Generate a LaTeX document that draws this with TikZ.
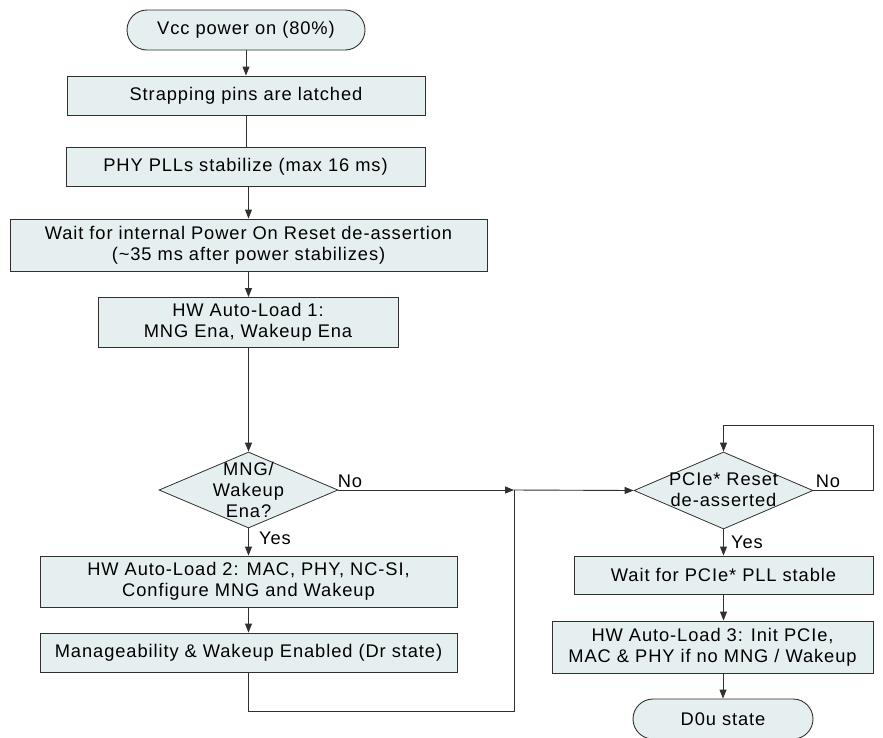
\documentclass[tikz,border=0pt]{standalone}
\usepackage{fontspec}
\setmainfont{Liberation Sans}[LetterSpace=5]
\usetikzlibrary{shapes.geometric,arrows.meta,calc}
\definecolor{boxfill}{HTML}{E5EFF0}
\definecolor{edge}{HTML}{303030}
\begin{document}
\begin{tikzpicture}[x=1pt,y=-1pt,
  every node/.style={font=\fontsize{18.3}{21}\selectfont, text=black},
  stepbox/.style={draw=edge, fill=boxfill, line width=0.9pt, inner sep=0pt, align=center},
  termbox/.style={draw=edge, fill=boxfill, line width=0.9pt, inner sep=0pt, rounded corners=20pt, minimum width=238pt, minimum height=40pt},
  decbox/.style={draw=edge, fill=boxfill, line width=0.8pt, diamond, inner sep=0pt},
  lbl/.style={inner sep=0pt},
  arr/.style={draw=edge, line width=0.9pt, -{Triangle[length=9pt,width=7pt]}},
  con/.style={draw=edge, line width=0.9pt}
]
\useasboundingbox (0,0) rectangle (883,737);
\clip (0,0) rectangle (883,737);

\node[termbox] (start) at (246,30) {Vcc power on (80\%)};
\node[stepbox, minimum width=358pt, minimum height=39pt] (s1) at (246,95.5) {Strapping pins are latched};
\node[stepbox, minimum width=359pt, minimum height=39pt] (s2) at (245.5,166.5) {PHY PLLs stabilize (max 16 ms)};
\node[stepbox, minimum width=477pt, minimum height=52pt] (s3) at (248.5,245) {Wait for internal Power On Reset de-assertion\\(\textasciitilde35 ms after power stabilizes)};
\node[stepbox, minimum width=300pt, minimum height=50pt] (s4) at (248,322.5) {HW Auto-Load 1:\\MNG Ena, Wakeup Ena};

\node[decbox, minimum width=179pt, minimum height=76pt] (d1) at (248.5,490) {};
\node[lbl, align=center] (d1t) at (248.5,490) {MNG/\\Wakeup\\Ena?};

\node[stepbox, minimum width=417pt, minimum height=51pt] (s5) at (248.5,581.5) {HW Auto-Load 2: MAC, PHY, NC-SI,\\Configure MNG and Wakeup};
\node[stepbox, minimum width=417pt, minimum height=39pt] (s6) at (248.5,652.5) {Manageability \& Wakeup Enabled (Dr state)};

\node[decbox, minimum width=179pt, minimum height=77pt] (d2) at (723.5,490.5) {};
\node[lbl, align=center] (d2t) at (723.5,490) {PCIe* Reset\\de-asserted};

\node[stepbox, minimum width=299pt, minimum height=38pt] (w1) at (723.5,575) {Wait for PCIe* PLL stable};
\node[stepbox, minimum width=321pt, minimum height=52pt] (s7) at (712.5,647) {HW Auto-Load 3: Init PCIe,\\MAC \& PHY if no MNG / Wakeup};
\node[termbox, minimum width=180pt] (end) at (723,719) {D0u state};

\node[lbl] (no1) at (350,481) {No};
\node[lbl] (yes1) at (275,538) {Yes};
\node[lbl] (no2) at (828,481) {No};
\node[lbl] (yes2) at (747,542) {Yes};

\coordinate (j1) at (514,490);
\coordinate (j2) at (514,711);
\coordinate (loop) at (873,425);

\draw[arr] (start.south) -- (s1.north -| start.south);
\draw[con] (s1.south) -- (s2.north -| s1.south);
\draw[arr] (s2.south -| s3.north) -- (s3.north);
\draw[arr] (s3.south -| d1.north) -- (s4.north -| d1.north);
\draw[arr] (s4.south -| d1.north) -- (d1.north);
\draw[arr] (d1.south) -- (s5.north -| d1.south);
\draw[arr] (s5.south) -- (s6.north);
\draw[con] (s6.south) |- (j2) -- (j1);
\draw[arr] (d1.east) -- (j1);
\draw[arr] (j1) -- (d2.west);
\draw[arr] (d2.east) -| (loop) -| (d2.north);
\draw[arr] (d2.south) -- (w1.north -| d2.south);
\draw[arr] (w1.south -| d2.south) -- (s7.north -| d2.south);
\draw[arr] (s7.south -| end.north) -- (end.north);
\end{tikzpicture}
\end{document}
